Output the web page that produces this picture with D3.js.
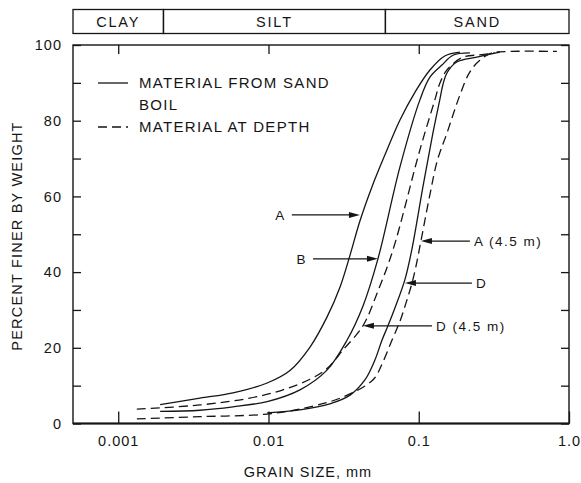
<!DOCTYPE html>
<html>
<head>
<meta charset="utf-8">
<script src="https://cdn.jsdelivr.net/npm/d3@7"></script>
<style>
  html, body { margin: 0; padding: 0; background: #fff; }
  svg { display: block; font-family: "Liberation Sans", Arial, sans-serif; }
</style>
</head>
<body>
<div id="chart"></div>
<script>
// soil classes across the top
const soilNames = ["CLAY", "SILT", "SAND"];
const soilBounds = [0.0005, 0.002, 0.06, 1.0];

// axis ticks
const xTickValues = [0.001, 0.01, 0.1, 1.0];
const xTickLabels = ["0.001", "0.01", "0.1", "1.0"];
const yTickValues = d3.range(0, 101, 10);

// grain size curves: [grain size mm, percent finer]
const curveA = [[0.0019, 5.0], [0.0035, 6.7], [0.0058, 8.1], [0.0098, 10.7], [0.0139, 14.0],
  [0.0189, 20.2], [0.0245, 28.1], [0.0299, 36.0], [0.0349, 44.5], [0.0406, 53.5],
  [0.0488, 62.5], [0.0596, 71.0], [0.075, 80.2], [0.0943, 87.5], [0.1187, 93.4],
  [0.149, 97.1], [0.188, 98.1]];
const curveB = [[0.0019, 3.2], [0.0035, 3.5], [0.0058, 4.4], [0.0098, 5.8], [0.0162, 8.9],
  [0.0245, 14.1], [0.0333, 22.0], [0.0425, 31.0], [0.0535, 43.5], [0.075, 67.8],
  [0.1018, 85.5], [0.1187, 91.5], [0.1426, 94.7], [0.169, 97.3], [0.219, 97.9]];
const curveD = [[0.0098, 2.8], [0.0162, 3.6], [0.0256, 5.2], [0.0349, 7.5], [0.0438, 11.5],
  [0.0511, 16.8], [0.0569, 22.0], [0.0624, 25.8], [0.0694, 30.5], [0.0809, 38.0],
  [0.090, 46.0], [0.1066, 62.5], [0.1242, 76.7], [0.138, 85.5], [0.1448, 89.5],
  [0.154, 92.6], [0.179, 95.5], [0.244, 96.8], [0.347, 98.1]];
const curveA45 = [[0.00133, 1.2], [0.0035, 1.8], [0.0098, 2.5], [0.0189, 4.4], [0.0313, 7.0],
  [0.0495, 11.5], [0.0578, 16.3], [0.0663, 22.0], [0.075, 27.0], [0.0822, 31.8],
  [0.090, 37.0], [0.0958, 41.5], [0.1034, 48.2], [0.1187, 60.5], [0.133, 69.5],
  [0.154, 76.7], [0.188, 86.8], [0.219, 92.9], [0.255, 96.0], [0.307, 97.9],
  [0.404, 98.3], [0.83, 98.3]];
const curveD45 = [[0.00133, 3.8], [0.0035, 4.9], [0.0075, 6.7], [0.0125, 8.9], [0.0189, 11.7],
  [0.0245, 14.5], [0.0313, 19.4], [0.0425, 25.8], [0.0535, 35.0], [0.0673, 45.8],
  [0.1018, 72.3], [0.128, 85.5], [0.138, 89.8], [0.154, 93.4], [0.197, 96.8],
  [0.255, 97.4], [0.321, 97.9]];

const series = [
  { name: "A", values: curveA, dashed: false },
  { name: "B", values: curveB, dashed: false },
  { name: "D", values: curveD, dashed: false },
  { name: "A (4.5 m)", values: curveA45, dashed: true },
  { name: "D (4.5 m)", values: curveD45, dashed: true }
];

// labels with arrows: tip on the curve, tail where the text sits
const notes = [
  { text: "A", tip: [0.0406, 55.1], tail: [0.0143, 55.1], side: "left" },
  { text: "B", tip: [0.0535, 43.5], tail: [0.0198, 43.5], side: "left" },
  { text: "A (4.5 m)", tip: [0.1034, 48.2], tail: [0.219, 48.2], side: "right" },
  { text: "D", tip: [0.0809, 37.1], tail: [0.2258, 37.1], side: "right" },
  { text: "D (4.5 m)", tip: [0.0425, 25.8], tail: [0.1224, 25.8], side: "right" }
];

const legendItems = [
  { lines: ["MATERIAL FROM SAND", "BOIL"], dashed: false },
  { lines: ["MATERIAL AT DEPTH"], dashed: true }
];

const width = 581, height = 483;
const plotLeft = 73, plotRight = 569, plotTop = 45, plotBottom = 423.5;
const ink = "#151515";
const dash = "9,5";

const x = d3.scaleLog().domain([0.0005, 1.0]).range([plotLeft, plotRight]);
const y = d3.scaleLinear().domain([0, 100]).range([plotBottom, plotTop]);

const svg = d3.select("#chart").append("svg")
  .attr("width", width).attr("height", height);

// category strip
const strip = svg.append("g");
soilNames.forEach((name, i) => {
  const x0 = x(soilBounds[i]), x1 = x(soilBounds[i + 1]);
  strip.append("rect")
    .attr("x", x0).attr("y", 9.5).attr("width", x1 - x0).attr("height", 24)
    .attr("fill", "none").attr("stroke", ink).attr("stroke-width", 1.3);
  strip.append("text")
    .attr("x", (x0 + x1) / 2).attr("y", 22)
    .attr("dy", "0.35em").attr("text-anchor", "middle")
    .attr("font-size", 14.5).attr("letter-spacing", 1.8).attr("fill", ink)
    .text(name);
});

// axes
function styleAxis(g) {
  g.select(".domain").remove();
  g.selectAll(".tick line").attr("stroke", ink).attr("stroke-width", 1.3);
  g.selectAll(".tick text").attr("fill", ink).attr("font-size", 14.5)
    .attr("letter-spacing", 1)
    .attr("font-family", "'Liberation Sans', Arial, sans-serif");
}

svg.append("g")
  .attr("transform", `translate(${plotLeft},0)`)
  .call(d3.axisLeft(y).tickValues(yTickValues).tickSize(-8).tickPadding(11)
    .tickFormat(d => d % 20 === 0 ? d : ""))
  .call(styleAxis);

svg.append("g")
  .attr("transform", `translate(${plotRight},0)`)
  .call(d3.axisRight(y).tickValues(yTickValues).tickSize(-8).tickFormat(""))
  .call(styleAxis);

svg.append("g")
  .attr("transform", `translate(0,${plotBottom})`)
  .call(d3.axisBottom(x).tickValues(xTickValues).tickSize(-12).tickPadding(12)
    .tickFormat((d, i) => xTickLabels[i]))
  .call(styleAxis);

svg.append("g")
  .attr("transform", `translate(0,${plotTop})`)
  .call(d3.axisTop(x).tickValues(xTickValues.slice(0, 3)).tickSize(-9).tickFormat(""))
  .call(styleAxis);

// frame
svg.append("rect")
  .attr("x", plotLeft).attr("y", plotTop)
  .attr("width", plotRight - plotLeft).attr("height", plotBottom - plotTop)
  .attr("fill", "none").attr("stroke", ink).attr("stroke-width", 1.4);
svg.append("line")
  .attr("x1", plotLeft).attr("x2", plotRight).attr("y1", plotBottom).attr("y2", plotBottom)
  .attr("stroke", ink).attr("stroke-width", 2);

// axis titles
svg.append("text")
  .attr("x", 308).attr("y", 472).attr("dy", "0.35em").attr("text-anchor", "middle")
  .attr("font-size", 14.5).attr("letter-spacing", 1).attr("fill", ink)
  .text("GRAIN SIZE, mm");
svg.append("text")
  .attr("transform", "translate(17,236) rotate(-90)")
  .attr("dy", "0.35em").attr("text-anchor", "middle")
  .attr("font-size", 14.5).attr("letter-spacing", 1.2).attr("fill", ink)
  .text("PERCENT FINER BY WEIGHT");

// curves
const line = d3.line()
  .x(d => x(d[0])).y(d => y(d[1]))
  .curve(d3.curveCatmullRom.alpha(0.5));

svg.append("g").selectAll("path")
  .data(series)
  .join("path")
  .attr("d", d => line(d.values))
  .attr("fill", "none").attr("stroke", ink).attr("stroke-width", 1.3)
  .attr("stroke-dasharray", d => d.dashed ? dash : null);

// annotations
const noteG = svg.append("g");
notes.forEach(n => {
  const tx = x(n.tip[0]), ty = y(n.tip[1]);
  const sx = x(n.tail[0]), sy = y(n.tail[1]);
  const dir = Math.sign(tx - sx);
  noteG.append("line")
    .attr("x1", sx).attr("y1", sy).attr("x2", tx - dir * 6).attr("y2", ty)
    .attr("stroke", ink).attr("stroke-width", 1.3);
  noteG.append("path")
    .attr("d", `M${tx},${ty}L${tx - dir * 11},${ty - 3}L${tx - dir * 11},${ty + 3}Z`)
    .attr("fill", ink);
  noteG.append("text")
    .attr("x", n.side === "left" ? sx - 6 : sx + 4).attr("y", sy)
    .attr("dy", "0.35em")
    .attr("text-anchor", n.side === "left" ? "end" : "start")
    .attr("font-size", 13.5).attr("letter-spacing", 1.5).attr("fill", ink)
    .text(n.text);
});

// legend
const legend = svg.append("g").attr("transform", "translate(98,83)");
let ly = 0;
legendItems.forEach(item => {
  legend.append("line")
    .attr("x1", 0).attr("x2", 30).attr("y1", ly).attr("y2", ly)
    .attr("stroke", ink).attr("stroke-width", 1.3)
    .attr("stroke-dasharray", item.dashed ? dash : null);
  item.lines.forEach((t, j) => {
    legend.append("text")
      .attr("x", 41).attr("y", ly + j * 22).attr("dy", "0.35em")
      .attr("font-size", 15).attr("letter-spacing", 1.3).attr("fill", ink)
      .text(t);
  });
  ly += item.lines.length * 22;
});
</script>
</body>
</html>
